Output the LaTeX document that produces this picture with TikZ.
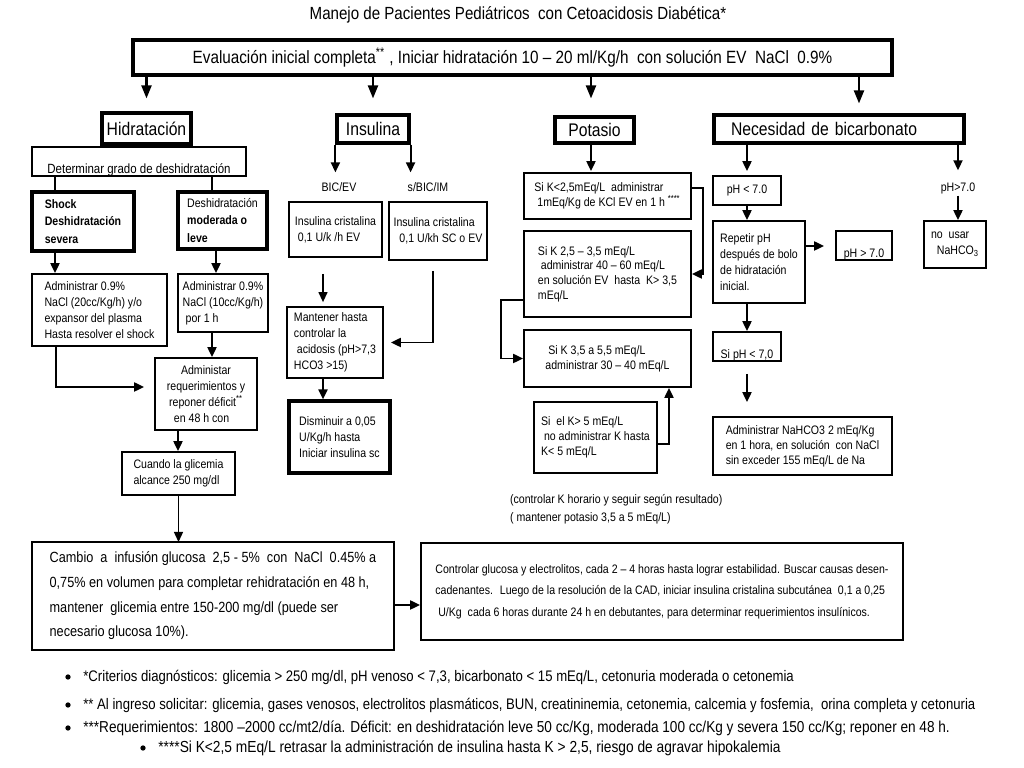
\documentclass[tikz,border=0pt]{standalone}
\usepackage{fontspec}
\setmainfont{Liberation Sans}[FakeStretch=0.86]
\usetikzlibrary{arrows.meta, positioning}

\begin{document}
\begin{tikzpicture}[
    x=0.2mm, y=-0.2mm,
    >={Triangle[length=2mm, width=1.8mm]},
    every node/.style={text=black},
    box/.style={draw, line width=1pt, align=left, inner sep=0.4mm,
      font=\fontsize{7}{9.2}\selectfont},
    bbox/.style={box, line width=1.8pt},
    head/.style={draw, line width=1.8pt, inner sep=0pt,
      font=\fontsize{10.4}{12}\selectfont},
    lowtext/.style={text height=#1, text depth=0.2mm, inner ysep=0.2mm},
    lbl/.style={inner sep=1pt, font=\fontsize{7}{9}\selectfont},
    note/.style={anchor=west, inner sep=0pt, font=\fontsize{8.7}{10}\selectfont},
    link/.style={->, line width=1.1pt},
    bigl/.style={->, line width=1.2pt, >={Triangle[length=2.6mm, width=2mm]}},
  ]

  % Background
  \fill[white] (0,0) rectangle (1024,768);
  \useasboundingbox (0,0) rectangle (1024,768);

  % === Title and first step ===
  \node[font=\fontsize{10}{12}\selectfont] (title) at (518,15)
    {Manejo de Pacientes Pediátricos~ con Cetoacidosis Diabética*};
  \node[draw, line width=1.8pt, minimum width=151.8mm, minimum height=7mm,
        font=\fontsize{10.1}{11}\selectfont] (top) at (512.5,57.5)
    {Evaluación inicial completa\textsuperscript{**} , Iniciar hidratación 10 – 20 ml/Kg/h~ con solución EV~ NaCl~ 0.9\%};

  % Branch headers
  \node[head, minimum width=17.8mm, minimum height=6.2mm] (hid) at (146.5,128.5) {Hidratación};
  \node[head, minimum width=14.4mm, minimum height=5.6mm] (ins) at (373,129) {Insulina};
  \node[head, minimum width=15.8mm, minimum height=5.2mm] (pot) at (594.5,130) {Potasio};
  \node[head, minimum height=5.6mm, text width=43.2mm, inner xsep=3.4mm, align=left]
    (nec) at (839,129) {Necesidad de bicarbonato};

  \draw[bigl, shorten >=2.6mm] (top.south -| hid) -- (hid);
  \draw[bigl, shorten >=3mm] (top.south -| ins) -- (ins);
  \draw[bigl, shorten >=3.4mm] (top.south -| 591,0) -- (pot.north -| 591,0);
  \draw[bigl, shorten >=2mm] (top.south -| 859,0) -- (nec.north -| 859,0);

  % === Hidratación ===
  \node[box, minimum width=42.8mm, lowtext=5.2mm, font=\fontsize{7.6}{9}\selectfont]
    (det) at (139,161.5) {Determinar grado de deshidratación};
  \node[bbox, minimum width=20.4mm, minimum height=11.8mm, font=\bfseries\fontsize{7}{10}\selectfont]
    (shock) at (83,221.5) {Shock\\Deshidratación\\severa~~~~~~~~~};
  \node[bbox, minimum width=17.8mm, minimum height=11.4mm, font=\fontsize{7}{10}\selectfont]
    (mod) at (222.5,220.5) {Deshidratación\\\textbf{moderada o}\\\textbf{leve}};
  \node[box, minimum width=27mm, minimum height=14.4mm]
    (shockadm) at (99.5,310) {Administrar 0.9\%\\NaCl (20cc/Kg/h) y/o\\expansor del plasma\\Hasta resolver el shock};
  \node[box, minimum width=18mm, minimum height=11.6mm]
    (modadm) at (223,303) {Administrar 0.9\%\\NaCl (10cc/Kg/h)\\~por 1 h};
  \node[box, align=center, minimum width=20.4mm, minimum height=14.4mm]
    (admreq) at (206,394) {Administar\\requerimientos y\\reponer déficit\textsuperscript{**}\\en 48 h con~~~~};
  \node[box, minimum width=22.6mm, minimum height=8.6mm]
    (cuando) at (178.5,473.5) {Cuando la glicemia\\alcance 250 mg/dl};

  \draw[line width=0.6pt] (det.south -| 55,0) -- (shock.north -| 55,0);
  \draw[line width=0.6pt] (det.south -| 212,0) -- (mod.north -| 212,0);
  \draw[link] (shock.south -| 55,0) -- (shockadm.north -| 55,0);
  \draw[link] (mod.south -| 216,0) -- (modadm.north -| 216,0);
  \draw[link] (modadm.south -| 212,0) -- (admreq.north -| 212,0);
  \draw[link, shorten >=2mm] (shockadm.south -| 56,0) |- ([yshift=1.4mm]admreq.west);
  \draw[link] (admreq.south -| 178,0) -- (cuando.north -| 178,0);
  \draw[link, line width=0.8pt] (cuando.south) -- (cuando.south |- 0,542);

  % === Insulina ===
  \node[lbl] (bic) at (339,187) {BIC/EV};
  \node[lbl] (sbic) at (428,187) {s/BIC/IM};
  \node[box, minimum width=18.6mm, minimum height=11mm]
    (ins1) at (335.5,229.5) {Insulina cristalina\\~0,1 U/k /h EV};
  \node[box, minimum width=19.6mm, minimum height=11.6mm]
    (ins2) at (438,231) {Insulina cristalina\\~~0,1 U/kh SC o EV};
  \node[box, minimum width=19.2mm, minimum height=14.2mm]
    (mant) at (335,342.5) {Mantener hasta\\controlar la\\~acidosis (pH>7,3\\HCO3 >15)};
  \node[bbox, minimum width=20.2mm, minimum height=14.4mm]
    (dism) at (339.5,437) {Disminuir a 0,05\\U/Kg/h hasta\\Iniciar insulina sc};

  \draw[link, shorten >=1.6mm] (ins.south west) -- (ins.south west |- bic.north);
  \draw[link, shorten >=1.6mm] (ins.south east) -- (ins.south east |- sbic.north);
  \draw[link, line width=0.7pt, shorten <=3.2mm, shorten >=0.8mm] (ins1.south -| 323,0) -- (mant.north -| 323,0);
  \draw[link, shorten <=2mm, shorten >=1.4mm] (ins2.south -| 433,0) |- (mant.east);
  \draw[link] (mant.south -| 323,0) -- (dism.north -| 323,0);

  % === Potasio ===
  \node[box, minimum width=33.4mm, minimum height=9.2mm, font=\fontsize{7}{8.4}\selectfont]
    (k1) at (607.5,196) {Si K<2,5mEq/L~ administrar\\~1mEq/Kg de KCl EV en 1 h \textsuperscript{****}};
  \node[box, minimum width=33.4mm, minimum height=17.2mm, font=\fontsize{7}{8.4}\selectfont]
    (k2) at (607.5,274) {Si K 2,5 – 3,5 mEq/L\\~administrar 40 – 60 mEq/L\\en solución EV~ hasta~ K> 3,5\\mEq/L};
  \node[box, minimum width=33.4mm, minimum height=11.4mm, font=\fontsize{7}{8.4}\selectfont]
    (k3) at (607.5,358.5) {~Si K 3,5 a 5,5 mEq/L\\administrar 30 – 40 mEq/L};
  \node[box, minimum width=24.6mm, minimum height=14.2mm, font=\fontsize{7}{8.4}\selectfont]
    (k4) at (595.5,437.5) {Si~ el K> 5 mEq/L\\~no administrar K hasta\\K< 5 mEq/L};
  \node[lbl, anchor=west] (knote1) at (508,500) {(controlar K horario y seguir según resultado)};
  \node[lbl, anchor=west] (knote2) at (508,518) {( mantener potasio 3,5 a 5 mEq/L)};

  \draw[link, shorten >=0.2mm] (pot.south -| 591,0) -- (k1.north -| 591,0);
  \draw[link] ([yshift=1.6mm]k1.east) -| ([xshift=2.2mm]k2.east) -- (k2.east);
  \draw[link] ([yshift=-5.2mm]k2.west) -| ([xshift=-4.4mm]k3.west) -- (k3.west);
  \draw[link] ([yshift=-1.3mm]k4.east) -| (k3.south -| 669,0);

  % === Bicarbonato ===
  \node[box, align=center, minimum width=13.6mm, minimum height=5.8mm] (phlt) at (747,190.5) {pH < 7.0};
  \node[lbl] (phgt) at (958,188) {pH>7.0};
  \node[box, minimum width=18.4mm, minimum height=16.4mm]
    (rep) at (759,262) {Repetir pH\\después de bolo\\de hidratación\\inicial.};
  \node[box, align=center, minimum width=11.2mm, lowtext=5.2mm] (phgt2) at (864,245.5) {pH > 7.0};
  \node[box, minimum width=12.4mm, minimum height=9.4mm]
    (nouse) at (955,244.5) {no~~usar\\~~NaHCO\textsubscript{3}};
  \node[box, align=center, minimum width=13.6mm, lowtext=5.2mm] (siph) at (747,346.5) {Si pH < 7,0};
  \node[box, minimum width=35.8mm, minimum height=11.6mm, font=\fontsize{7}{8.6}\selectfont]
    (admna) at (802.5,446) {Administrar NaHCO3 2 mEq/Kg\\en 1 hora, en solución~ con NaCl\\sin exceder 155 mEq/L de Na};

  \draw[link, shorten >=0.8mm] (nec.south -| phlt) -- (phlt);
  \draw[link, shorten >=2mm] (nec.south -| phgt) -- (phgt);
  \draw[link] (phlt.south) -- (phlt.south |- rep.north);
  \draw[link] (phgt.south) -- (phgt.south |- nouse.north);
  \draw[link, shorten >=2.2mm] (rep.east |- 0,246) -- (phgt2.west |- 0,246);
  \draw[link] (rep.south -| siph) -- (siph);
  \draw[link, shorten <=2.4mm, shorten >=2.8mm] (siph.south) -- (siph.south |- admna.north);

  % === Final steps ===
  \node[box, minimum width=72.4mm, minimum height=21.6mm, font=\fontsize{8.4}{14}\selectfont]
    (cambio) at (213,596) {Cambio~ a~ infusión glucosa~ 2,5 - 5\%~ con~ NaCl~ 0.45\% a\\0,75\% en volumen para completar rehidratación en 48 h,\\mantener~ glicemia entre 150-200 mg/dl (puede ser\\necesario glucosa 10\%).};
  \node[box, minimum width=96.4mm, minimum height=19.4mm, font=\fontsize{7}{12.2}\selectfont]
    (controlar) at (662,591.5) {Controlar glucosa y electrolitos, cada 2 – 4 horas hasta lograr estabilidad. Buscar causas desen-\\cadenantes.~ Luego de la resolución de la CAD, iniciar insulina cristalina subcutánea~ 0,1 a 0,25\\~U/Kg~ cada 6 horas durante 24 h en debutantes, para determinar requerimientos insulínicos.};
  \draw[link] (cambio.east |- 0,605) -- (controlar.west |- 0,605);

  % === Footnotes ===
  \foreach \y in {677,705,728} {
    \fill (68,\y) circle (1.5pt);
  }
  \fill (143,748) circle (1.5pt);
  \node[note] (fn1) at (83,677) {*Criterios diagnósticos: glicemia > 250 mg/dl, pH venoso < 7,3, bicarbonato < 15 mEq/L, cetonuria moderada o cetonemia};
  \node[note] (fn2) at (83,705) {** Al ingreso solicitar: glicemia, gases venosos, electrolitos plasmáticos, BUN, creatininemia, cetonemia, calcemia y fosfemia,~ orina completa y cetonuria};
  \node[note, font=\fontsize{9}{10}\selectfont] (fn3) at (83,728) {***Requerimientos: 1800 –2000 cc/mt2/día. Déficit: en deshidratación leve 50 cc/Kg, moderada 100 cc/Kg y severa 150 cc/Kg; reponer en 48 h.};
  \node[note, font=\fontsize{9.1}{10}\selectfont] (fn4) at (158,748) {****Si K<2,5 mEq/L retrasar la administración de insulina hasta K > 2,5, riesgo de agravar hipokalemia};

\end{tikzpicture}
\end{document}
